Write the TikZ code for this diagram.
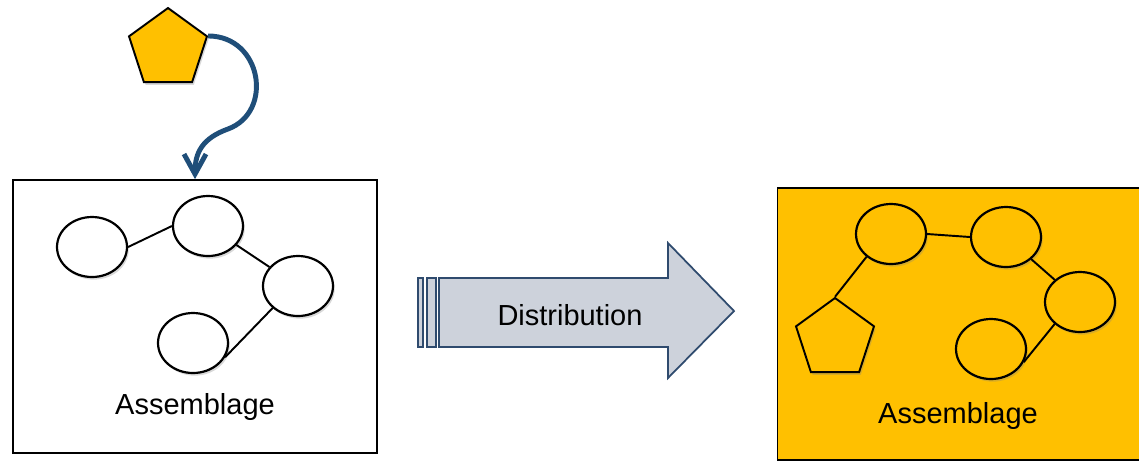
\documentclass[tikz,border=0pt]{standalone}
\usepackage{fontspec}
\setmainfont{Liberation Sans}
\usetikzlibrary{shapes.geometric, arrows.meta, shadows}
\definecolor{amber}{HTML}{FFC000}
\definecolor{navy}{HTML}{1F4E79}
\definecolor{slate}{HTML}{2F4B6E}
\definecolor{steelgray}{HTML}{CDD2DB}

\begin{document}
\begin{tikzpicture}[x=0.02cm, y=-0.02cm,
    blob/.style={ellipse, draw, line width=1.25pt, fill=white, minimum width=1.4cm, minimum height=1.2cm, inner sep=0pt,
      drop shadow={opacity=0.3, shadow xshift=1pt, shadow yshift=-1.5pt}},
    piece/.style={regular polygon, regular polygon sides=5, draw, line width=1.1pt, fill=amber, minimum size=1.64cm, inner sep=0pt,
      drop shadow={opacity=0.3, shadow xshift=1pt, shadow yshift=-1.5pt}},
    frame/.style={rectangle, draw, line width=1pt, inner sep=0pt},
    link/.style={line width=1.1pt},
    bigarrow/.style={draw=slate, fill=steelgray, line width=1pt},
    dropline/.style={draw=navy, line width=2.8pt, -{Straight Barb[length=0.4cm,width=0.44cm]}},
    caption/.style={font=\fontsize{16.5}{20}\selectfont}]
  \clip (0,0) rectangle (1139,461);

  \node[frame, minimum width=7.28cm, minimum height=5.46cm] (lbox) at (195,316.5) {};
  \node[frame, fill=amber, minimum width=7.3cm, minimum height=5.44cm] (rbox) at (960,324) {};

  \node[piece] (tpiece) at (168,49) {};
  \draw[dropline] (tpiece.corner 5) .. controls (262,36) and (274,112) .. (228,129)
    .. controls (203,138) and (195,152) .. (lbox.north);

  \node[blob] (e1) at (92,247) {};
  \node[blob] (e2) at (208,226) {};
  \node[blob] (e3) at (298,286) {};
  \node[blob] (e4) at (193,343) {};
  \draw[link] (e1.east) -- (e2.west);
  \draw[link] (e2) -- (e3);
  \draw[link] (e3.221) -- (e4.-24);
  \node[caption] (lcap) at (195,407) {Assemblage};

  \draw[bigarrow] (418,278) rectangle (423,347);
  \draw[bigarrow] (427,278) rectangle (436,347);
  \draw[bigarrow] (439,278) -- (668,278) -- (668,243) -- (734,311) -- (668,378) -- (668,347) -- (439,347) -- cycle;
  \node[caption] (dist) at (570,315) {Distribution};

  \node[blob, fill=amber] (r1) at (891,234) {};
  \node[blob, fill=amber] (r2) at (1006,237) {};
  \node[blob, fill=amber] (r3) at (1080,302) {};
  \node[blob, fill=amber] (r4) at (991,349) {};
  \node[piece] (rpiece) at (835,339) {};
  \draw[link] (r1.east) -- (r2.west);
  \draw[link] (r2) -- (r3);
  \draw[link] (r3.221) -- (r4.-22);
  \draw[link] (r1.223) -- (rpiece.corner 1);
  \node[caption] (rcap) at (958,416) {Assemblage};
\end{tikzpicture}
\end{document}
